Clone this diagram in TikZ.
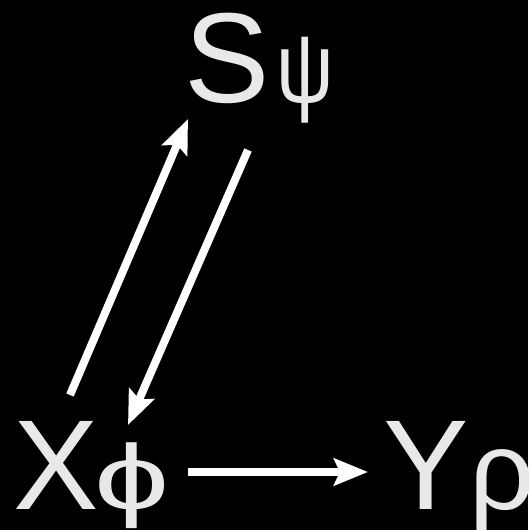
\documentclass[tikz,border=0pt]{standalone}
\usepackage{fontspec}
\setmainfont{Liberation Sans}
\usetikzlibrary{arrows.meta}
\definecolor{txt}{HTML}{E8E8E8}
\tikzset{
  lbl/.style={anchor=base west, inner sep=0pt, text=txt, font=\fontsize{128}{130}\selectfont},
  conn/.style={draw=white, line width=8pt, -{Stealth[length=34pt,width=27pt,inset=6pt]}}
}
\begin{document}
\begin{tikzpicture}[x=1pt,y=1pt]
\fill[black] (0,0) rectangle (528,530);
\useasboundingbox (0,0) rectangle (528,530);
\begin{scope}
\clip (0,0) rectangle (528,530);
\node[lbl] (S) at (184,427) {S\hspace{7pt}\scalebox{0.63}[0.78]{ψ}};
\node[lbl] (X) at (13,20) {X\hspace{-4pt}\scalebox{1.05}[0.72]{ϕ}};
\node[lbl] (Y) at (383,20) {Y\hspace{1pt}\scalebox{0.9}[0.87]{ρ}};
\end{scope}
\coordinate (xs) at (188,58);
\coordinate (ye) at (368,58);
\coordinate (xu) at (70,135);
\coordinate (su) at (188,411);
\coordinate (sd) at (248,380);
\coordinate (xd) at (128,105);
\draw[conn] (xs) -- (ye);
\draw[conn] (xu) -- (su);
\draw[conn] (sd) -- (xd);
\end{tikzpicture}
\end{document}
